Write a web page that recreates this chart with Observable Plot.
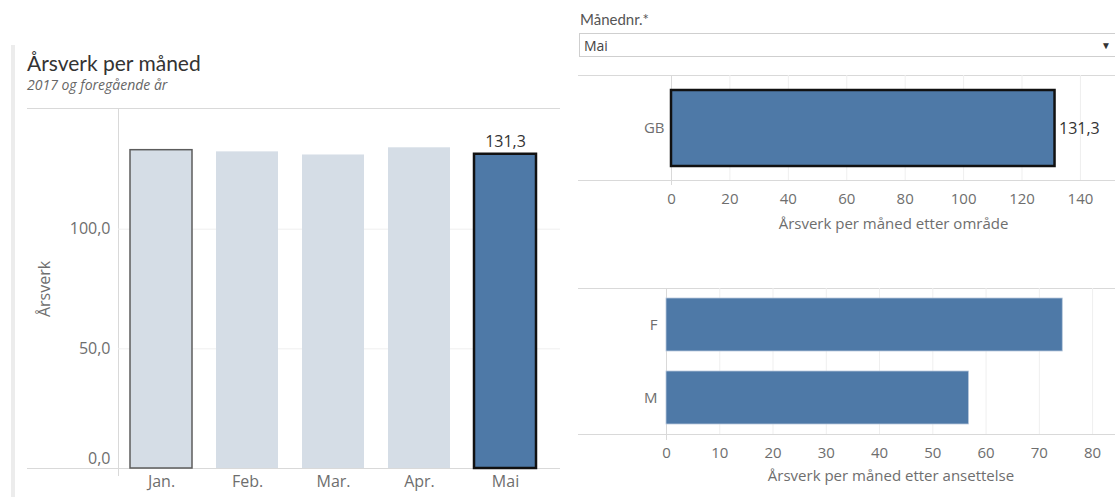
<!DOCTYPE html>
<html><head><meta charset="utf-8">
<script src="https://cdn.jsdelivr.net/npm/d3@7"></script>
<script src="https://cdn.jsdelivr.net/npm/@observablehq/plot@0.6"></script>
<style>
body{margin:0;background:#fff;font-family:"Open Sans",Lato,sans-serif;}
#root{position:relative;width:1115px;height:497px;overflow:hidden;background:#fff;}
.abs{position:absolute;}
.hl{position:absolute;height:1px;background:#d9d9d9;}
.vl{position:absolute;width:1px;background:#d9d9d9;}
#title{left:27px;top:50px;font-family:Lato,sans-serif;font-size:21px;color:#333;white-space:nowrap;}
#subtitle{left:27px;top:75px;font-size:14px;color:#666;font-style:italic;white-space:nowrap;}
#flabel{left:580px;top:10px;font-family:Lato,sans-serif;font-size:15px;color:#555;}
#dropdown{left:579px;top:33px;width:540px;height:24px;border:1px solid #cfcfcf;box-sizing:border-box;}
#dropdown span{position:absolute;left:4px;top:2px;font-size:14px;color:#444;}
#dropdown i{position:absolute;right:7px;top:4px;font-size:10px;color:#333;font-style:normal;}
#strip{left:11px;top:45px;width:4px;height:452px;background:#ececec;}
</style></head><body><div id="root">
<div id="strip" class="abs"></div>
<div id="title" class="abs">Årsverk per måned</div>
<div id="subtitle" class="abs">2017 og foregående år</div>
<div id="flabel" class="abs">Månednr.*</div>
<div id="dropdown" class="abs"><span id="ddval"></span><i>▼</i></div>
<div class="hl" style="left:27px;top:108px;width:533px"></div>
<div class="hl" style="left:27px;top:468px;width:533px"></div>
<div class="vl" style="left:118px;top:108px;height:368px"></div>
<div class="hl" style="left:578px;top:75px;width:537px"></div>
<div class="hl" style="left:578px;top:180px;width:537px"></div>
<div class="vl" style="left:671px;top:75px;height:110px"></div>
<div class="hl" style="left:578px;top:288px;width:537px"></div>
<div class="hl" style="left:578px;top:434px;width:537px"></div>
<div class="vl" style="left:666px;top:288px;height:152px"></div>
<div id="p1" class="abs" style="left:0;top:100px"></div>
<div id="p2" class="abs" style="left:570px;top:70px"></div>
<div id="p3" class="abs" style="left:570px;top:280px"></div>
</div>
<script>
// ---- data ----
const months = ["Jan.", "Feb.", "Mar.", "Apr.", "Mai"];
const arsverk = [133.0, 132.3, 131.0, 134.0, 131.3];
const selectedMonth = "Mai";
const areas = ["GB"];
const areaValues = [131.3];
const employment = ["F", "M"];
const employmentValues = [74.4, 56.8];
const yTicksMonth = [0, 50, 100];
const xTicksArea = [0, 20, 40, 60, 80, 100, 120, 140];
const xTicksEmp = [0, 10, 20, 30, 40, 50, 60, 70, 80];
const titleMonth = "Årsverk";
const titleArea = "Årsverk per måned etter område";
const titleEmp = "Årsverk per måned etter ansettelse";

document.getElementById("ddval").textContent = selectedMonth;

const locale = d3.formatLocale({decimal: ",", thousands: " ", grouping: [3], currency: ["", " kr"]});
const fmt1 = locale.format(".1f");

const monthData = months.map((m, i) => ({month: m, value: arsverk[i]}));
const areaData = areas.map((a, i) => ({area: a, value: areaValues[i]}));
const empData = employment.map((e, i) => ({type: e, value: employmentValues[i]}));

const FONT = "'Open Sans', Lato, sans-serif";
const BLUE = "#4e79a7", FADE = "#d5dde6";

// ---- left: monthly bars ----
const p1 = Plot.plot({
  width: 565, height: 397,
  marginTop: 9, marginBottom: 29, marginLeft: 118, marginRight: 5,
  style: {fontFamily: FONT, fontSize: "16px", color: "#6e6e6e", background: "transparent", overflow: "visible"},
  x: {domain: months, range: [118, 548], paddingInner: 0.28, paddingOuter: 0.14, label: null},
  y: {domain: [0, 150], label: null},
  marks: [
    Plot.gridY(yTicksMonth.filter(t => t > 0), {stroke: "#efefef", strokeOpacity: 1}),
    Plot.barY(monthData, {
      x: "month", y: "value",
      fill: d => d.month === selectedMonth ? BLUE : FADE,
      stroke: d => d.month === selectedMonth ? "#111" : (d.month === months[0] ? "#5c5c5c" : "none"),
      strokeWidth: d => d.month === selectedMonth ? 2.5 : 1.5
    }),
    Plot.text(monthData.filter(d => d.month === selectedMonth), {
      x: "month", y: "value", text: d => fmt1(d.value),
      dy: -7, lineAnchor: "bottom", fill: "#333", fontSize: 16
    }),
    Plot.axisX({tickSize: 0, tickPadding: 7, label: null}),
    Plot.axisY({ticks: yTicksMonth.filter(t => t > 0), tickFormat: fmt1, tickSize: 0, tickPadding: 8,
      label: titleMonth, labelAnchor: "center", labelArrow: "none", labelOffset: 80}),
    Plot.axisY({ticks: yTicksMonth.filter(t => t === 0), tickFormat: fmt1, tickSize: 0, tickPadding: 8, dy: -10, label: null})
  ]
});
document.getElementById("p1").appendChild(p1);

// ---- right top: by area ----
const p2 = Plot.plot({
  width: 545, height: 170,
  marginTop: 5, marginBottom: 60, marginLeft: 101, marginRight: 0,
  style: {fontFamily: FONT, fontSize: "15px", color: "#6e6e6e", background: "transparent", overflow: "visible"},
  x: {domain: [0, 152], label: null},
  y: {domain: areas, padding: 0.156, label: null},
  marks: [
    Plot.gridX(xTicksArea.filter(t => t > 0), {stroke: "#efefef", strokeOpacity: 1}),
    Plot.barX(areaData, {x: "value", y: "area", fill: BLUE, stroke: "#111", strokeWidth: 2.5}),
    Plot.text(areaData, {x: "value", y: "area", text: d => fmt1(d.value), textAnchor: "start", dx: 4, fill: "#333", fontSize: 16}),
    Plot.axisX({ticks: xTicksArea, tickSize: 0, tickPadding: 13, label: titleArea, labelAnchor: "center", labelArrow: "none", labelOffset: 48}),
    Plot.axisY({tickSize: 0, tickPadding: 7})
  ]
});
document.getElementById("p2").appendChild(p2);

// ---- right bottom: by employment ----
const p3 = Plot.plot({
  width: 545, height: 217,
  marginTop: 8, marginBottom: 63, marginLeft: 96, marginRight: 0,
  style: {fontFamily: FONT, fontSize: "15px", color: "#6e6e6e", background: "transparent", overflow: "visible"},
  x: {domain: [0, 84.3], label: null},
  y: {domain: employment, paddingInner: 0.27, paddingOuter: 0.125, label: null},
  marks: [
    Plot.gridX(xTicksEmp.filter(t => t > 0), {stroke: "#efefef", strokeOpacity: 1}),
    Plot.barX(empData, {x: "value", y: "type", fill: BLUE, stroke: "#b9c9dc", strokeWidth: 0.8}),
    Plot.axisX({ticks: xTicksEmp, tickSize: 0, tickPadding: 13, label: titleEmp, labelAnchor: "center", labelArrow: "none", labelOffset: 46}),
    Plot.axisY({tickSize: 0, tickPadding: 9})
  ]
});
document.getElementById("p3").appendChild(p3);
</script>
</body></html>
